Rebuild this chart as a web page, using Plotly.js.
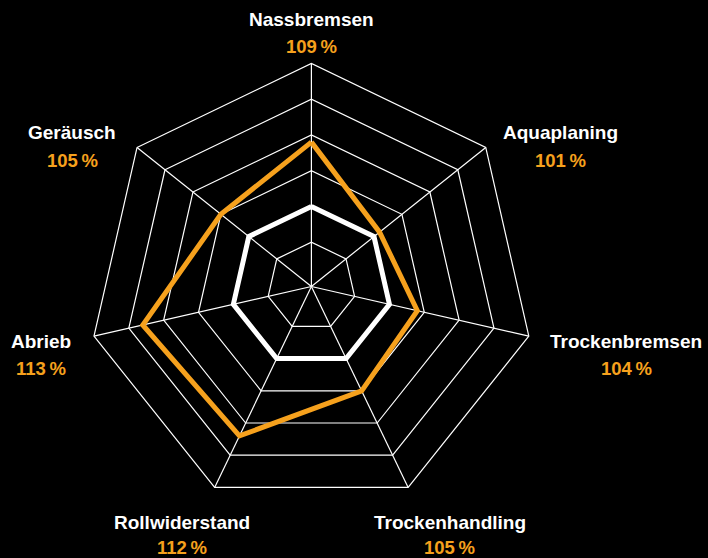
<!DOCTYPE html>
<html><head><meta charset="utf-8">
<script src="https://cdn.plot.ly/plotly-3.0.1.min.js"></script>
<style>html,body{margin:0;padding:0;background:#000;}#chart{width:708px;height:558px;}</style>
</head><body><div id="chart"></div>
<script>
// ---- data ----
const categories = ['Nassbremsen','Aquaplaning','Trockenbremsen','Trockenhandling','Rollwiderstand','Abrieb','Geräusch'];
const referenceValues = [100,100,100,100,100,100,100];
const tireValues = [109,101,104,105,112,113,105];
const gridTicks = [95,100,105,110,115,120];
const radialRange = [88.8,120];

// ---- layout config (pixel positions of category labels: x, name y, value y) ----
const W = 708, H = 558;
const labelPos = [[311,19,46],[560,132,160],[626,341,368],[449.5,522.5,547.5],[182,522.5,547.5],[40.5,341.5,368.5],[72,132,160]];
const cx = 311.4, cy = 286.5, R = 223;
const ORANGE = '#F6A11D';

function closed(a){ return a.concat([a[0]]); }

const traces = [
  {type:'scatterpolar', r: closed(referenceValues), theta: closed(categories), mode:'lines',
   line:{color:'#FFFFFF', width:5}, hoverinfo:'skip', showlegend:false},
  {type:'scatterpolar', r: closed(tireValues), theta: closed(categories), mode:'lines',
   line:{color:ORANGE, width:5}, hoverinfo:'skip', showlegend:false}
];

const annotations = [];
categories.forEach((c,i)=>{
  const p = labelPos[i];
  annotations.push({xref:'paper', yref:'paper', x:p[0]/W, y:1-p[1]/H, xanchor:'center', yanchor:'middle',
    text:c, showarrow:false, font:{family:'Liberation Sans, Arial, sans-serif', size:19, color:'#FFFFFF', weight:'bold'}});
  annotations.push({xref:'paper', yref:'paper', x:p[0]/W, y:1-p[2]/H, xanchor:'center', yanchor:'middle',
    text:tireValues[i] + '\u2009%', showarrow:false, font:{family:'Liberation Sans, Arial, sans-serif', size:18.5, color:ORANGE, weight:'bold'}});
});

const layout = {
  width:W, height:H, margin:{l:0,r:0,t:0,b:0},
  paper_bgcolor:'#000', plot_bgcolor:'#000', showlegend:false,
  polar:{
    domain:{x:[(cx-R)/W,(cx+R)/W], y:[1-(cy+R)/H, 1-(cy-R)/H]},
    bgcolor:'#000', gridshape:'linear',
    radialaxis:{range:radialRange, tickvals:gridTicks, showticklabels:false, ticks:'', showline:false,
      gridcolor:'#FFFFFF', gridwidth:1.2},
    angularaxis:{direction:'clockwise', rotation:90, showticklabels:false, ticks:'',
      gridcolor:'#FFFFFF', gridwidth:1.2, showline:true, linecolor:'#FFFFFF', linewidth:1.2}
  },
  annotations: annotations
};
Plotly.newPlot('chart', traces, layout, {staticPlot:true});
</script></body></html>
